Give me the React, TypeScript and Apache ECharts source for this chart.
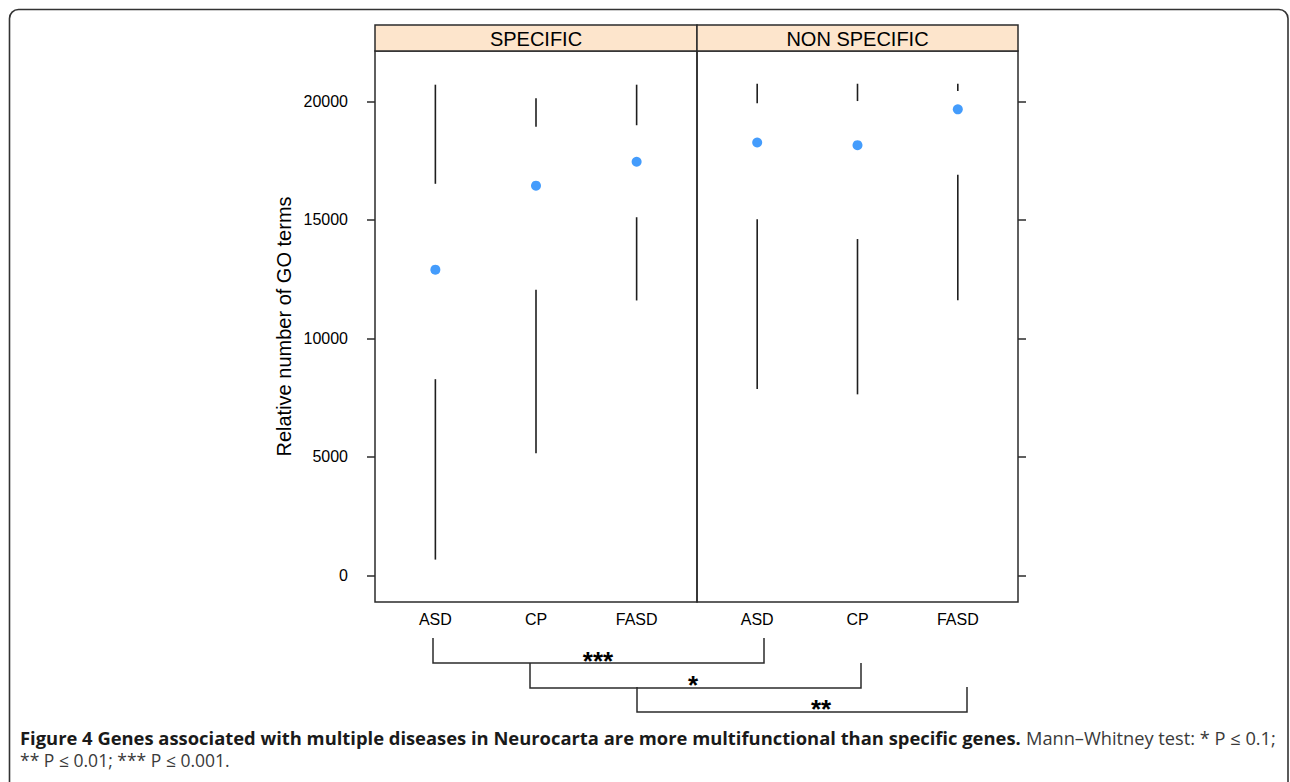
import React, { useEffect, useRef } from "react";
import * as echarts from "echarts";

// ---------- data ----------
const CATEGORIES = ["ASD", "CP", "FASD"];
const PANELS = ["SPECIFIC", "NON SPECIFIC"];
const Y_TICKS = [0, 5000, 10000, 15000, 20000];
const Y_TITLE = "Relative number of GO terms";

// SPECIFIC panel (min, lower hinge, median, upper hinge, max)
const SPEC_MIN = [670, 5160, 11600];
const SPEC_Q1 = [8280, 12050, 15110];
const SPEC_MEDIAN = [12900, 16440, 17450];
const SPEC_Q3 = [16520, 18930, 18990];
const SPEC_MAX = [20700, 20130, 20700];

// NON SPECIFIC panel
const NONSPEC_MIN = [7870, 7640, 11610];
const NONSPEC_Q1 = [15030, 14190, 16900];
const NONSPEC_MEDIAN = [18260, 18150, 19660];
const NONSPEC_Q3 = [19920, 20010, 20430];
const NONSPEC_MAX = [20740, 20740, 20740];

// significance brackets: SPECIFIC vs NON SPECIFIC per disease
const COMPARISON_LABELS = ["***", "*", "**"];

const CAPTION_BOLD =
  "Figure 4 Genes associated with multiple diseases in Neurocarta are more multifunctional than specific genes.";
const CAPTION_REST_1 = "Mann\u2013Whitney test: * P \u2264 0.1;";
const CAPTION_REST_2 = "** P \u2264 0.01; *** P \u2264 0.001.";

// ---------- layout / style ----------
const Y_MIN = -1118;
const Y_MAX = 22121;
const INK = "#2b2b2b";
const DOT = "#1583fb";
const STRIP_BG = "#fde5cc";
const SANS = "'Liberation Sans', Arial, Helvetica, sans-serif";
const CAPTION_FONT = "'Open Sans', 'Noto Sans', sans-serif";

function measure(text: string, font: string): number {
  const ctx = document.createElement("canvas").getContext("2d");
  if (!ctx) return 0;
  ctx.font = font;
  return ctx.measureText(text).width;
}

export default function App() {
  const ref = useRef<HTMLDivElement>(null);

  useEffect(() => {
    if (!ref.current) return;
    const chart = echarts.init(ref.current, null, { renderer: "svg" });

    const panels = [
      { min: SPEC_MIN, q1: SPEC_Q1, med: SPEC_MEDIAN, q3: SPEC_Q3, max: SPEC_MAX },
      { min: NONSPEC_MIN, q1: NONSPEC_Q1, med: NONSPEC_MEDIAN, q3: NONSPEC_Q3, max: NONSPEC_MAX },
    ];

    const gridBoxes = [
      { left: 375, width: 322 },
      { left: 697, width: 321 },
    ];
    const top = 51;
    const height = 551;

    const capSize = 17.5;
    const wBold = measure(CAPTION_BOLD, `bold ${capSize}px 'Open Sans'`) || 1001;
    const wR1 = measure(CAPTION_REST_1, `${capSize}px 'Open Sans'`) || 245;
    const wR2 = measure(CAPTION_REST_2, `${capSize}px 'Open Sans'`) || 210;
    const sBold = 1001 / wBold;
    const sR1 = 250 / wR1;
    const sR2 = 210 / wR2;

    const renderWhiskers = (params: any, api: any) => {
      const x = api.value(0);
      const a = api.coord([x, api.value(1)]);
      const b = api.coord([x, api.value(2)]);
      const c = api.coord([x, api.value(3)]);
      const d = api.coord([x, api.value(4)]);
      const style = { stroke: "#1e1e1e", lineWidth: 1.6, fill: "none" };
      return {
        type: "group",
        children: [
          { type: "line", shape: { x1: a[0], y1: a[1], x2: b[0], y2: b[1] }, style },
          { type: "line", shape: { x1: c[0], y1: c[1], x2: d[0], y2: d[1] }, style },
        ],
      };
    };

    const brackets = [
      { x1: 433, x2: 764, yTop: 638, yBot: 663, lx: 598, ly: 661 },
      { x1: 530, x2: 861, yTop: 663, yBot: 688, lx: 693, ly: 685 },
      { x1: 637, x2: 967, yTop: 687, yBot: 712, lx: 821, ly: 709 },
    ];

    const graphic: any[] = [
      {
        type: "rect",
        shape: { x: 9.5, y: 9.5, width: 1278.5, height: 820, r: 9 },
        style: { fill: "none", stroke: "#333", lineWidth: 1.6 },
        silent: true,
      },
    ];

    PANELS.forEach((name, i) => {
      const g = gridBoxes[i];
      graphic.push({
        type: "rect",
        shape: { x: g.left, y: 25, width: g.width, height: 26 },
        style: { fill: STRIP_BG, stroke: INK, lineWidth: 1.5 },
        silent: true,
      });
      graphic.push({
        type: "text",
        x: g.left + g.width / 2,
        y: 39,
        style: {
          text: name,
          fontSize: 20,
          fontFamily: SANS,
          fill: "#000",
          align: "center",
          verticalAlign: "middle",
        },
        silent: true,
      });
    });

    brackets.forEach((b, i) => {
      graphic.push({
        type: "polyline",
        shape: {
          points: [
            [b.x1, b.yTop],
            [b.x1, b.yBot],
            [b.x2, b.yBot],
            [b.x2, b.yTop],
          ],
        },
        style: { stroke: INK, lineWidth: 1.5, fill: "none" },
        silent: true,
      });
      graphic.push({
        type: "text",
        x: b.lx,
        y: b.ly,
        style: {
          text: COMPARISON_LABELS[i],
          fontSize: 26,
          fontWeight: "bold",
          fontFamily: SANS,
          fill: "#000",
          align: "center",
          verticalAlign: "middle",
        },
        silent: true,
      });
    });

    graphic.push(
      {
        type: "text",
        x: 20,
        y: 738,
        scaleX: sBold,
        style: {
          text: CAPTION_BOLD,
          fontSize: capSize,
          fontWeight: "bold",
          fontFamily: CAPTION_FONT,
          fill: "#1a1a1a",
          align: "left",
          verticalAlign: "middle",
        },
        silent: true,
      },
      {
        type: "text",
        x: 1026,
        y: 738,
        scaleX: sR1,
        style: {
          text: CAPTION_REST_1,
          fontSize: capSize,
          fontFamily: CAPTION_FONT,
          fill: "#3a3a3a",
          align: "left",
          verticalAlign: "middle",
        },
        silent: true,
      },
      {
        type: "text",
        x: 20,
        y: 760,
        scaleX: sR2,
        style: {
          text: CAPTION_REST_2,
          fontSize: capSize,
          fontFamily: CAPTION_FONT,
          fill: "#3a3a3a",
          align: "left",
          verticalAlign: "middle",
        },
        silent: true,
      }
    );

    const option: any = {
      animation: false,
      backgroundColor: "#fff",
      grid: gridBoxes.map((g) => ({
        left: g.left,
        top,
        width: g.width,
        height,
        show: true,
        borderColor: INK,
        borderWidth: 1.5,
        backgroundColor: "transparent",
        containLabel: false,
      })),
      xAxis: gridBoxes.map((_, i) => ({
        type: "value",
        gridIndex: i,
        min: 0.4,
        max: 3.6,
        axisLine: { show: false },
        axisTick: { show: false, customValues: [1, 2, 3] },
        splitLine: { show: false },
        axisLabel: {
          customValues: [1, 2, 3],
          formatter: (v: number) => CATEGORIES[Math.round(v) - 1] ?? "",
          fontSize: 16,
          fontFamily: SANS,
          color: "#000",
          margin: 9,
        },
      })),
      yAxis: [
        {
          type: "value",
          gridIndex: 0,
          min: Y_MIN,
          max: Y_MAX,
          position: "left",
          axisLine: { show: false },
          axisTick: {
            show: true,
            customValues: Y_TICKS,
            length: 8,
            inside: false,
            lineStyle: { color: INK, width: 1.5 },
          },
          axisLabel: {
            customValues: Y_TICKS,
            formatter: (v: number) => String(v),
            fontSize: 16,
            fontFamily: SANS,
            color: "#000",
            margin: 27,
          },
          splitLine: { show: false },
          name: Y_TITLE,
          nameLocation: "middle",
          nameRotate: 90,
          nameGap: 81,
          nameTextStyle: { fontSize: 20, fontFamily: SANS, color: "#000" },
        },
        {
          type: "value",
          gridIndex: 1,
          min: Y_MIN,
          max: Y_MAX,
          position: "right",
          axisLine: { show: false },
          axisTick: {
            show: true,
            customValues: Y_TICKS,
            length: 8,
            inside: false,
            lineStyle: { color: INK, width: 1.5 },
          },
          axisLabel: { show: false, customValues: Y_TICKS },
          splitLine: { show: false },
        },
      ],
      series: panels.flatMap((p, i) => [
        {
          type: "custom",
          xAxisIndex: i,
          yAxisIndex: i,
          silent: true,
          renderItem: renderWhiskers,
          encode: { x: 0, y: [1, 2, 3, 4] },
          data: CATEGORIES.map((_, k) => [k + 1, p.min[k], p.q1[k], p.q3[k], p.max[k]]),
          z: 2,
        },
        {
          type: "scatter",
          xAxisIndex: i,
          yAxisIndex: i,
          silent: true,
          symbol: "circle",
          symbolSize: 10,
          itemStyle: { color: DOT },
          data: CATEGORIES.map((_, k) => [k + 1, p.med[k]]),
          z: 3,
        },
      ]),
      graphic,
    };

    chart.setOption(option);
    return () => chart.dispose();
  }, []);

  return (
    <div
      ref={ref}
      style={{
        position: "fixed",
        left: 0,
        top: 0,
        width: "1290px",
        height: "782px",
        background: "#fff",
      }}
    />
  );
}
